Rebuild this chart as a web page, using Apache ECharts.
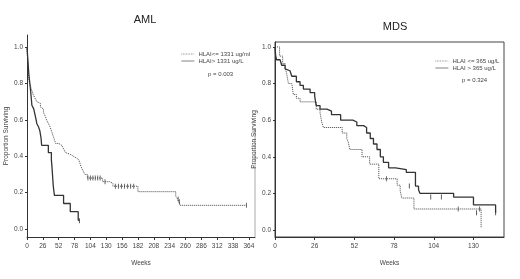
<!DOCTYPE html>
<html><head><meta charset="utf-8">
<script src="https://cdn.jsdelivr.net/npm/echarts@6/dist/echarts.min.js"></script>
<style>html,body{margin:0;padding:0;background:#fff}#c{width:520px;height:279px}</style>
</head><body><div id="c"></div>
<script>
// ---- Data ----
const titles = ['AML', 'MDS'];
const amlLegend = ['HLAI<= 1331 ug/ml', 'HLAI> 1331 ug/L'];
const mdsLegend = ['HLAI <= 365 ug/L', 'HLAI > 365 ug/L'];
const pValues = ['p = 0.003', 'p = 0.324'];
const amlTicks = [0,26,52,78,104,130,156,182,208,234,260,286,312,338,364];
const mdsTicks = [0,26,52,78,104,130];
const yTicks = [0,0.2,0.4,0.6,0.8,1.0];

const amlLowWeeks = [0,1,2,3,4,6,8,10,13,16,19,22,24,27,30,32,35,38,40,43,45,47,52,57,60,63,66,71,76,81,85,87,89,92,95,99,124,136,141,182,244,247,249,251,360];
const amlLowSurv  = [1.0,0.93,0.87,0.83,0.80,0.78,0.76,0.74,0.72,0.70,0.69,0.67,0.66,0.64,0.62,0.60,0.58,0.56,0.54,0.51,0.49,0.47,0.46,0.45,0.44,0.42,0.41,0.40,0.39,0.38,0.37,0.36,0.34,0.32,0.30,0.28,0.26,0.25,0.235,0.205,0.18,0.165,0.15,0.13,0.13];
const amlHighWeeks = [0,1,2,3,4,5,7,8,11,13,15,16,19,21,23,24,35,40,41,42,43,44,45,60,71,84,86];
const amlHighSurv  = [1.0,0.95,0.90,0.85,0.82,0.79,0.72,0.68,0.66,0.63,0.60,0.58,0.56,0.54,0.50,0.46,0.42,0.38,0.34,0.29,0.24,0.21,0.185,0.14,0.095,0.05,0.045];
const mdsLowWeeks = [0,3,5,6.6,7.7,8.8,11,12,14,16.4,27,29.5,30.6,31.7,44,47,48,49,57,62,68,80,82,83,91,135];
const mdsLowSurv  = [1.0,0.95,0.91,0.89,0.85,0.80,0.79,0.74,0.72,0.70,0.66,0.64,0.59,0.56,0.53,0.50,0.48,0.44,0.40,0.36,0.28,0.245,0.215,0.175,0.115,0.01];
const mdsHighWeeks = [0,0.4,1,3.3,4.4,6.6,7.7,9.8,11,14,16.4,18.6,23,26,27,29.5,34,37,43,51,53.6,58,60,62.4,64.5,66.8,69,71,74.4,79,86,92,94,95,117,130,144.5];
const mdsHighSurv  = [1.0,0.956,0.93,0.92,0.90,0.88,0.87,0.86,0.84,0.81,0.79,0.77,0.75,0.73,0.68,0.66,0.65,0.63,0.60,0.59,0.57,0.56,0.53,0.50,0.47,0.44,0.40,0.37,0.34,0.33,0.315,0.24,0.22,0.20,0.18,0.137,0.095,0.095];

// censor marks
const amlLowCensWeeks = [100,104,108,112,116,120,128,145,150,155,160,165,170,175,248,250,360];
const amlLowCensSurv  = [0.28,0.28,0.28,0.28,0.28,0.28,0.26,0.235,0.235,0.235,0.235,0.235,0.235,0.235,0.165,0.15,0.13];
const amlHighCensWeeks = [86];
const amlHighCensSurv  = [0.045];
const mdsLowCensWeeks = [73,120,134];
const mdsLowCensSurv  = [0.28,0.115,0.115];
const mdsHighCensWeeks = [88,102,109,132,144.5];
const mdsHighCensSurv  = [0.24,0.18,0.18,0.095,0.095];

// ---- Build ----
const zip = (a,b) => a.map((v,i)=>[v,b[i]]);
const FONT = "'Liberation Sans',Arial,sans-serif";
const TXT = '#444';
const dotted = {color:'#444', width:1, type:'dotted'};
const solid = {color:'#333', width:1.3, type:'solid'};

function yAxis(gi, min, max) {
  return {
    type:'value', gridIndex:gi, min:min, max:max,
    name:'Proportion Surviving', nameLocation:'middle', nameGap: gi===0?14:11,
    nameTextStyle:{fontFamily:FONT, fontSize:6.5, color:TXT},
    axisLine:{show:true, lineStyle:{color:'#333', width:1}},
    axisTick:{show:true, length:2, customValues:yTicks, lineStyle:{color:'#333'}},
    axisLabel:{customValues:yTicks, formatter:v=>v.toFixed(1), fontFamily:FONT, fontSize:6.5, color:TXT, margin:4},
    splitLine:{show:false}
  };
}
function xAxis(gi, max, ticks) {
  return {
    type:'value', gridIndex:gi, min:0, max:max,
    name:'Weeks', nameLocation:'middle', nameGap:23,
    nameTextStyle:{fontFamily:FONT, fontSize:6.5, color:TXT},
    axisLine:{show:true, onZero:false, lineStyle:{color:'#333', width:1}},
    axisTick:{show:true, length:3, customValues:ticks, lineStyle:{color:'#333'}},
    axisLabel:{customValues:ticks, fontFamily:FONT, fontSize:6.5, color:TXT, margin:6, showMaxLabel:true},
    splitLine:{show:false}
  };
}
function km(name, gi, w, s, ls) {
  return {name:name, type:'line', step:'end', xAxisIndex:gi, yAxisIndex:gi,
    data:zip(w,s), symbol:'none', lineStyle:ls, itemStyle:{color:ls.color}, silent:true, animation:false};
}
function cens(gi, w, s, color) {
  return {type:'scatter', xAxisIndex:gi, yAxisIndex:gi, data:zip(w,s),
    symbol:'rect', symbolSize:[1,5], itemStyle:{color:color}, silent:true, animation:false};
}
const legendBase = {orient:'vertical', itemWidth:13, itemHeight:4, itemGap:1, selectedMode:false,
  itemStyle:{color:'transparent', borderWidth:0, opacity:0},
  lineStyle:{width:0.8, color:'#666'},
  textStyle:{fontFamily:FONT, fontSize:6, color:TXT, padding:[0,0,0,-1]}};

const chart = echarts.init(document.getElementById('c'), null, {renderer:'canvas'});
chart.setOption({
  backgroundColor:'#fff',
  animation:false,
  title:[
    {text:titles[0], left:140, top:9, textAlign:'center', textStyle:{fontFamily:FONT, fontSize:11, fontWeight:'normal', color:'#222'}},
    {text:titles[1], left:390, top:16, textAlign:'center', textStyle:{fontFamily:FONT, fontSize:11, fontWeight:'normal', color:'#222'}},
    {text:pValues[0], left:203, top:66, textStyle:{fontFamily:FONT, fontSize:6, fontWeight:'normal', color:TXT}},
    {text:pValues[1], left:457, top:72, textStyle:{fontFamily:FONT, fontSize:6, fontWeight:'normal', color:TXT}}
  ],
  legend:[
    Object.assign({data:amlLegend, left:176, top:46}, legendBase),
    Object.assign({data:mdsLegend, left:430, top:53}, legendBase)
  ],
  grid:[
    {left:27, right:265, top:35, bottom:42, show:true, borderColor:'transparent'},
    {left:275, right:16, top:42, bottom:42, show:true, borderColor:'#444', borderWidth:1}
  ],
  xAxis:[xAxis(0, 374, amlTicks), xAxis(1, 150, mdsTicks)],
  yAxis:[yAxis(0, -0.044, 1.066), yAxis(1, -0.038, 1.027)],
  series:[
    km(amlLegend[0], 0, amlLowWeeks, amlLowSurv, dotted),
    km(amlLegend[1], 0, amlHighWeeks, amlHighSurv, solid),
    km(mdsLegend[0], 1, mdsLowWeeks, mdsLowSurv, dotted),
    km(mdsLegend[1], 1, mdsHighWeeks, mdsHighSurv, solid),
    cens(0, amlLowCensWeeks, amlLowCensSurv, '#444'),
    cens(0, amlHighCensWeeks, amlHighCensSurv, '#333'),
    cens(1, mdsLowCensWeeks, mdsLowCensSurv, '#444'),
    cens(1, mdsHighCensWeeks, mdsHighCensSurv, '#333')
  ]
});
// faint right border of the left panel (lower part, as in the scan)
const p0 = chart.convertToPixel({gridIndex:0}, [374, 0.55]);
const p1 = chart.convertToPixel({gridIndex:0}, [374, -0.044]);
chart.setOption({graphic:[{type:'line', shape:{x1:p0[0], y1:p0[1], x2:p1[0], y2:p1[1]}, style:{stroke:'#aaa', lineWidth:1}, silent:true}]});
</script></body></html>
